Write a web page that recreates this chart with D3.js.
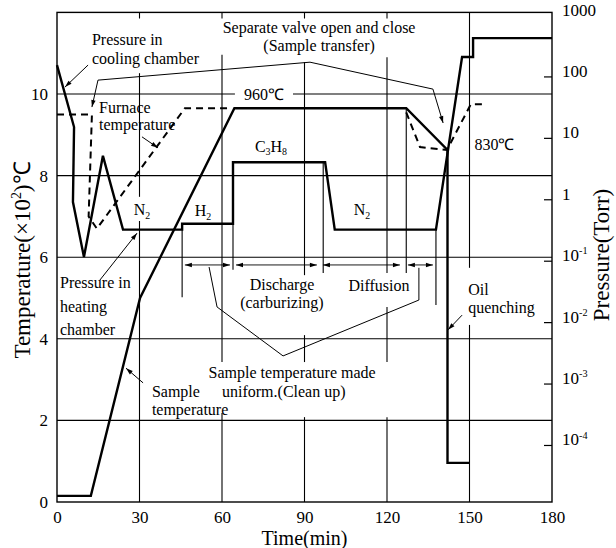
<!DOCTYPE html>
<html>
<head>
<meta charset="utf-8">
<script src="https://cdn.jsdelivr.net/npm/d3@7"></script>
<style>
  body { margin: 0; background: #fff; }
  text { font-family: "Liberation Serif", "Times New Roman", serif; fill: #000; }
</style>
</head>
<body>
<div class="svg-container"></div>
<script>
// axis ticks
const timeTicks = [0, 30, 60, 90, 120, 150, 180];
const tempTicks = [0, 2, 4, 6, 8, 10];
const pressureTicks = [1000, 100, 10, 1, 0.1, 0.01, 0.001, 0.0001];
const pressureLabels = ['1000', '100', '10', '1', '10^{-1}', '10^{-2}', '10^{-3}', '10^{-4}'];

// sample temperature (x10^2 C)
const sampleTime = [0, 12.3, 30.2, 64.5, 127, 142, 142, 150];
const sampleTemp = [0.15, 0.15, 5.0, 9.65, 9.65, 8.63, 0.96, 0.96];

// furnace temperature (x10^2 C), two dashed pieces
const furnaceTimeA = [0, 12.7, 11.5, 14.5, 46.5, 62];
const furnaceTempA = [9.5, 9.5, 7.0, 6.7, 9.65, 9.65];
const furnaceTimeB = [127, 132, 141.8, 150.5, 156];
const furnaceTempB = [9.55, 8.7, 8.63, 9.75, 9.75];

// chamber pressure (Torr)
const pressureTime = [0, 6.2, 5.8, 9.8, 16.7, 24, 45.5, 45.5, 64, 64, 97.5, 101, 137.8, 147.3, 151.3, 151.3, 180];
const pressureVal = [153, 15, 0.9, 0.115, 5.1, 0.32, 0.32, 0.4, 0.4, 4.0, 4.0, 0.32, 0.32, 207, 207, 420, 420];

// grid lines
const gridTemps = [2, 4, 6, 8, 10];
const gridTimes = [30, 60, 90, 120, 150];
const gridPieces = {
  30: [[0, 6.89], [7.48, 10.51], [11.85, 12]],
  60: [[0, 2.18], [3.43, 10.96], [11.85, 12]],
  90: [[0, 2.08], [3.43, 4.09], [5.56, 10.78], [11.85, 12]],
  120: [[0, 2.08], [3.43, 4.78], [5.61, 10.9], [11.85, 12]],
  150: [[0, 4.34], [5.74, 12]]
};

// process stage markers and spans
const eventTimes = [45.5, 64, 96.8, 127, 137.8];
const eventRanges = [[5.02, 6.67], [5.69, 8.33], [5.61, 8.33], [5.61, 9.65], [4.83, 6.67]];
const spanStart = [46.5, 65.1, 96.7, 127.6];
const spanEnd = [62.9, 94.5, 124.7, 136.7];

const width = 616;
const height = 548;

const x = d3.scaleLinear().domain([0, 180]).range([57, 552]);
const yT = d3.scaleLinear().domain([0, 12]).range([502, 12.4]);
const yP = d3.scaleLog().domain([1e-5, 1e3]).range([506.4, 15]);

const svg = d3.select('.svg-container')
  .append('svg')
  .attr('width', width)
  .attr('height', height);

svg.append('defs').append('marker')
  .attr('id', 'arr')
  .attr('viewBox', '-8 -4 9 8')
  .attr('refX', 0).attr('refY', 0)
  .attr('markerWidth', 9).attr('markerHeight', 8)
  .attr('markerUnits', 'userSpaceOnUse')
  .attr('orient', 'auto-start-reverse')
  .append('path')
  .attr('d', 'M0,0L-7,-2.2L-7,2.2Z')
  .attr('fill', '#000');

// text with _sub and ^{sup}
function rich(sel, str, size) {
  const re = /([_^])\{([^}]*)\}|([_^])(.)|([^_^]+)/g;
  let m, shift = 0;
  while ((m = re.exec(str))) {
    const kind = m[1] || m[3];
    const content = m[2] !== undefined ? m[2] : (m[4] !== undefined ? m[4] : m[5]);
    const ts = sel.append('tspan').text(content);
    let dy = 0;
    if (kind === '_') { ts.attr('font-size', size * 0.62); dy = size * 0.22; }
    else if (kind === '^') { ts.attr('font-size', size * 0.6); dy = -size * 0.4; }
    ts.attr('dy', dy - shift);
    shift = dy;
  }
}

function label(lines, t, temps, anchor, size) {
  lines.forEach((ln, i) => {
    const txt = svg.append('text')
      .attr('x', x(t)).attr('y', yT(temps[i]))
      .attr('text-anchor', anchor || 'start')
      .attr('font-size', size || 16);
    rich(txt, ln, size || 16);
  });
}

const gLine = d3.line().x(d => x(d[0])).y(d => yT(d[1]));

// grid
const grid = svg.append('g').attr('stroke', '#000').attr('stroke-width', 1.1);
gridTemps.forEach(T => {
  const pieces = T === 10 ? [[0, 64.7], [85.8, 180]] : [[0, 180]];
  pieces.forEach(p => grid.append('line')
    .attr('x1', x(p[0])).attr('x2', x(p[1]))
    .attr('y1', yT(T)).attr('y2', yT(T)));
});
gridTimes.forEach(t => {
  gridPieces[t].forEach(p => grid.append('line')
    .attr('x1', x(t)).attr('x2', x(t))
    .attr('y1', yT(p[0])).attr('y2', yT(p[1])));
});

// frame
svg.append('rect')
  .attr('x', x(0)).attr('y', yT(12))
  .attr('width', x(180) - x(0)).attr('height', yT(0) - yT(12))
  .attr('fill', 'none').attr('stroke', '#000').attr('stroke-width', 1.4);

// stage markers
eventTimes.forEach((t, i) => {
  grid.append('line')
    .attr('x1', x(t)).attr('x2', x(t))
    .attr('y1', yT(eventRanges[i][0])).attr('y2', yT(eventRanges[i][1]));
});
spanStart.forEach((s, i) => {
  svg.append('line')
    .attr('x1', x(s)).attr('x2', x(spanEnd[i]))
    .attr('y1', yT(5.81)).attr('y2', yT(5.81))
    .attr('stroke', '#000').attr('stroke-width', 0.9)
    .attr('marker-start', 'url(#arr)').attr('marker-end', 'url(#arr)');
});

// data lines
svg.append('path')
  .datum(furnaceTimeA.map((t, i) => [t, furnaceTempA[i]]))
  .attr('d', gLine)
  .attr('fill', 'none').attr('stroke', '#000').attr('stroke-width', 2)
  .attr('stroke-dasharray', '7,5');
svg.append('path')
  .datum(furnaceTimeB.map((t, i) => [t, furnaceTempB[i]]))
  .attr('d', gLine)
  .attr('fill', 'none').attr('stroke', '#000').attr('stroke-width', 2)
  .attr('stroke-dasharray', '7,5');

svg.append('path')
  .datum(sampleTime.map((t, i) => [t, sampleTemp[i]]))
  .attr('d', gLine)
  .attr('fill', 'none').attr('stroke', '#000').attr('stroke-width', 2.4)
  .attr('stroke-linejoin', 'miter');

svg.append('path')
  .datum(pressureTime.map((t, i) => [t, pressureVal[i]]))
  .attr('d', d3.line().x(d => x(d[0])).y(d => yP(d[1])))
  .attr('fill', 'none').attr('stroke', '#000').attr('stroke-width', 2.4)
  .attr('stroke-linejoin', 'miter');

// axes
const xAxis = svg.append('g')
  .attr('transform', `translate(0,${yT(0)})`)
  .call(d3.axisBottom(x).tickValues(timeTicks).tickSize(0).tickPadding(9));
const yAxis = svg.append('g')
  .attr('transform', `translate(${x(0)},0)`)
  .call(d3.axisLeft(yT).tickValues(tempTicks).tickSize(0).tickPadding(9));
const pAxis = svg.append('g')
  .attr('transform', `translate(${x(180)},0)`)
  .call(d3.axisRight(yP).tickValues(pressureTicks).tickSize(-8).tickPadding(10).tickFormat(''));
[xAxis, yAxis, pAxis].forEach(a => {
  a.attr('font-family', null);
  a.select('.domain').remove();
  a.selectAll('text').attr('font-size', 17);
});
pAxis.selectAll('line').attr('stroke-width', 1.2);
pAxis.selectAll('.tick').filter(d => d === 1000).select('line').remove();
pAxis.selectAll('.tick text').each(function (d, i) {
  rich(d3.select(this), pressureLabels[i], 17);
});

svg.append('text')
  .attr('x', (x(0) + x(180)) / 2).attr('y', 545)
  .attr('text-anchor', 'middle').attr('font-size', 20)
  .text('Time(min)');
const tTitle = svg.append('text')
  .attr('transform', 'translate(30,260) rotate(-90)')
  .attr('text-anchor', 'middle').attr('font-size', 23);
rich(tTitle, 'Temperature(×10^{2})℃', 23);
svg.append('text')
  .attr('transform', 'translate(609,255) rotate(-90)')
  .attr('text-anchor', 'middle').attr('font-size', 23)
  .text('Pressure(Torr)');

// annotations
label(['Pressure in', 'cooling chamber'], 12.7, [11.2, 10.74]);
label(['Furnace', 'temperature'], 15.3, [9.53, 9.12]);
label(['N_2'], 30.9, [7.03], 'middle');
label(['H_2'], 53.1, [7.0], 'middle');
label(['960℃'], 75.3, [9.85], 'middle');
label(['C_3H_8'], 77.8, [8.58], 'middle');
label(['Separate valve open and close', '(Sample transfer)'], 95.3, [11.5, 11.05], 'middle');
label(['830℃'], 151.8, [8.63]);
label(['N_2'], 110.9, [7.03], 'middle');
label(['Pressure in', 'heating', 'chamber'], 1.1, [5.25, 4.66, 4.09]);
label(['Discharge', '(carburizing)'], 81.8, [5.2, 4.75], 'middle');
label(['Diffusion'], 117.1, [5.17], 'middle');
label(['Oil', 'quenching'], 149.5, [5.07, 4.63]);
label(['Sample temperature made'], 85.5, [3.04], 'middle');
label(['uniform.(Clean up)'], 60, [2.57]);
label(['Sample', 'temperature'], 34.5, [2.57, 2.13]);

// pointer lines
const pointers = [
  [[11.3, 10.71], [2.9, 10.17]],
  [[30.9, 8.95], [36.7, 8.68]],
  [[15.6, 5.44], [29.1, 6.59]],
  [[31.3, 2.92], [25.1, 3.28]],
  [[147.3, 4.58], [142.2, 4.22]],
  [[14.9, 10.34], [12.7, 9.68]],
  [[136.7, 10.12], [140.4, 9.29]]
];
pointers.forEach(p => {
  svg.append('path').datum(p).attr('d', gLine)
    .attr('fill', 'none').attr('stroke', '#000').attr('stroke-width', 1)
    .attr('marker-end', 'url(#arr)');
});
svg.append('path')
  .datum([[14.9, 10.34], [92, 10.78], [136.7, 10.12]])
  .attr('d', gLine).attr('fill', 'none').attr('stroke', '#000').attr('stroke-width', 1);
svg.append('path')
  .datum([[55.3, 5.76], [58.2, 4.78], [82.2, 3.58], [131.6, 4.95], [131.6, 5.74]])
  .attr('d', gLine).attr('fill', 'none').attr('stroke', '#000').attr('stroke-width', 1);
</script>
</body>
</html>
